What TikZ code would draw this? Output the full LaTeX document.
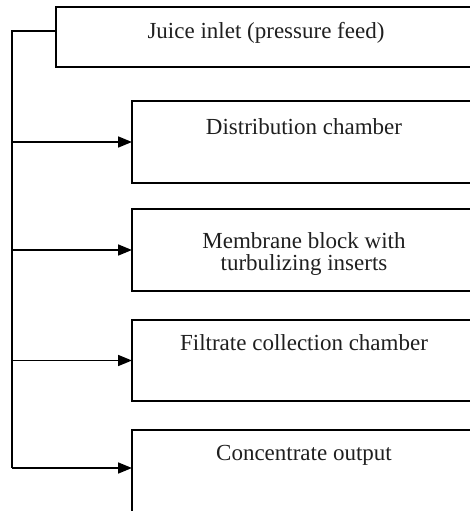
\documentclass[tikz,border=0pt]{standalone}
\usepackage{fontspec}
\setmainfont{Liberation Serif}
\usetikzlibrary{arrows.meta}

\begin{document}
\begin{tikzpicture}[x=1pt,y=-1pt,
	block/.style={draw,rectangle,line width=2.8pt,inner sep=0,outer sep=0,minimum width=344pt,minimum height=82pt,anchor=north west},
	caption/.style={anchor=center,text=black!88,font=\fontsize{23}{22}\selectfont,align=center},
	feed/.style={line width=1.7pt},
	feedarrow/.style={line width=1.7pt,-{Triangle[length=14pt,width=11pt]}}]
	\clip (0,0) rectangle (470,511);
	\node[block,minimum width=420pt,minimum height=60pt,label={[caption,yshift=-26pt]north:Juice inlet (pressure feed)}] (inlet) at (56,7) {};
	\node[block,label={[caption,yshift=-26pt]north:Distribution chamber}] (dist) at (132,101) {};
	\node[block,label={[caption,yshift=-45pt]north:Membrane block with\\turbulizing inserts}] (membrane) at (132,209) {};
	\node[block,minimum height=81pt,label={[caption,yshift=-23pt]north:Filtrate collection chamber}] (filtrate) at (132,320) {};
	\node[block,label={[caption,yshift=-25pt]north:Concentrate output}] (conc) at (132,430) {};
	\coordinate (trunk) at (12,31);
	\coordinate (trunkend) at (12,468);
	% main feed line
	\draw[feed] (inlet.west |- trunk) -- (trunk) -- (trunkend);
	\draw[feedarrow] (trunk |- dist.west) -- (dist.west);
	\draw[feedarrow] (trunk |- membrane.west) -- (membrane.west);
	\draw[feedarrow] (trunk |- filtrate.west) -- (filtrate.west);
	\draw[feedarrow] (trunkend) -- (trunkend -| conc.west);
\end{tikzpicture}
\end{document}
